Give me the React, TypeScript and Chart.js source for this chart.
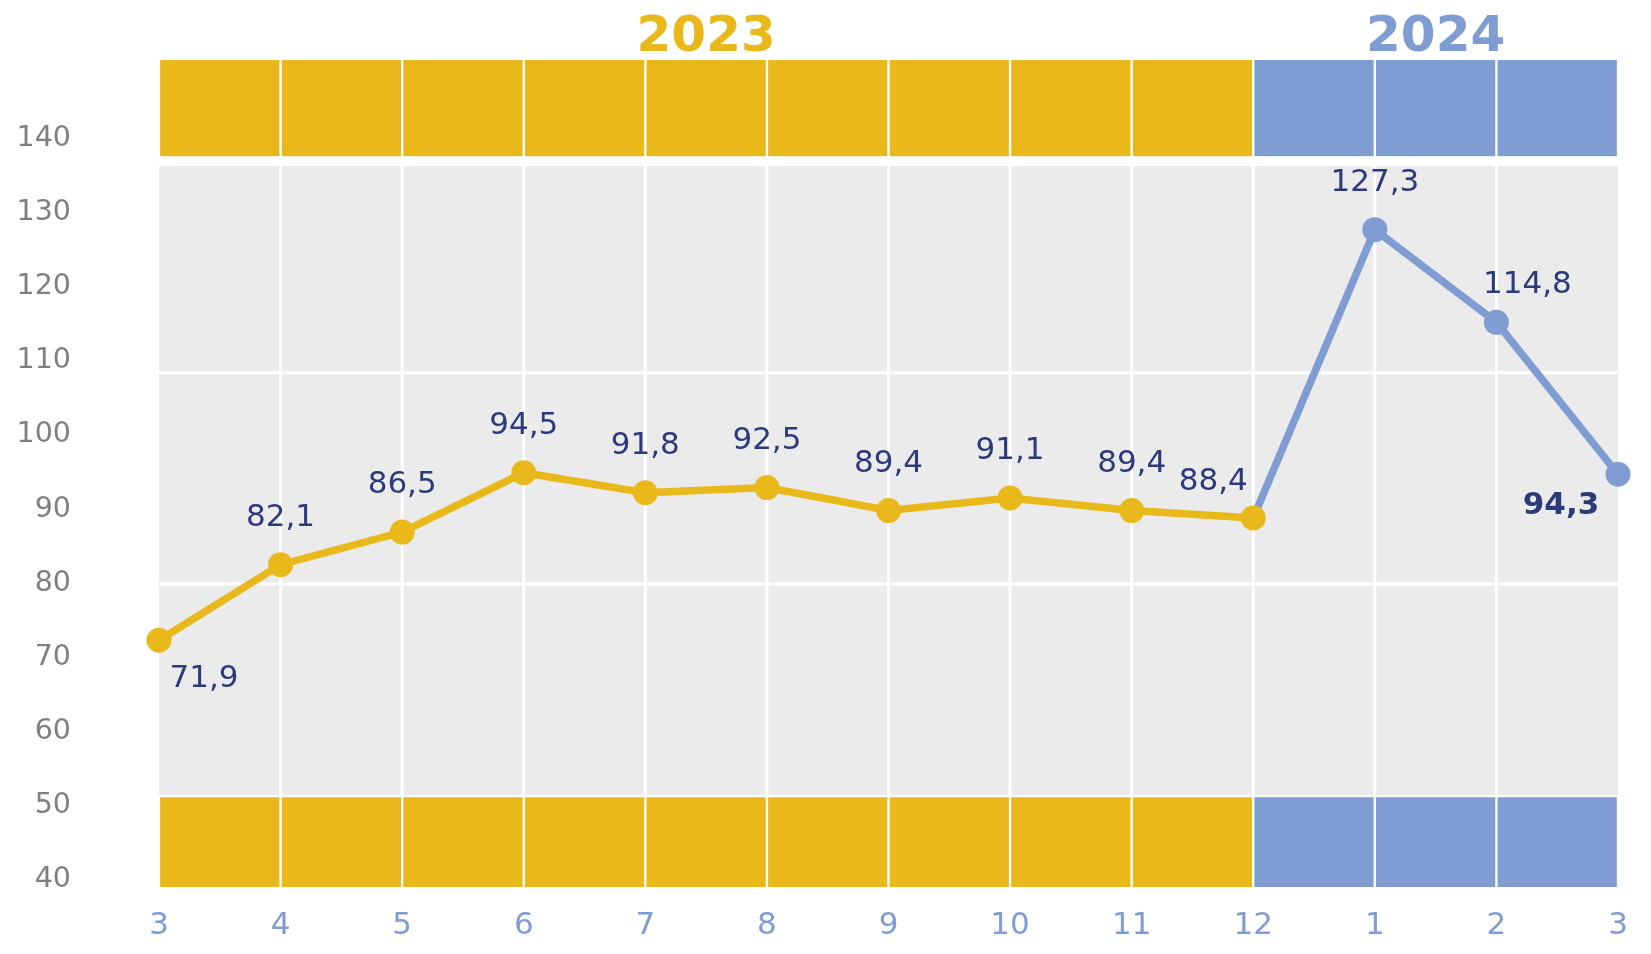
import React, { useEffect, useRef } from 'react';
import { Chart, registerables } from 'chart.js';

Chart.register(...registerables);

// ---- data ----
const MONTHS = ['3', '4', '5', '6', '7', '8', '9', '10', '11', '12', '1', '2', '3'];
const YEARS = ['2023', '2024'];
const VALUES_2023 = [71.9, 82.1, 86.5, 94.5, 91.8, 92.5, 89.4, 91.1, 89.4, 88.4];
const VALUES_2024 = [127.3, 114.8, 94.3];
const Y_TICKS = [40, 50, 60, 70, 80, 90, 100, 110, 120, 130, 140];

// ---- decoration ranges (in y-axis units) ----
const Y_MIN = 38.6;
const Y_MAX = 150.2;
const TOP_BAND = [137.2, 150.2];
const BOTTOM_BAND = [38.6, 50.7];
const GRAY_RANGE = [51.0, 135.9];
const GRAY_H_LINES = [79.5, 108.0];

// label placement per point
const LABEL_POS = [
  'belowRight', 'above', 'above', 'above', 'above', 'above', 'above', 'above', 'above',
  'aboveLeft', 'above', 'aboveRight', 'belowLeft',
];
const BOLD_LABELS = [12];

// ---- styles ----
const YELLOW = '#E9B81B';
const BLUE = '#7F9DD3';
const GRAY_BG = '#EBEBEB';
const LABEL_COLOR = '#2B3A7A';
const FONT = '"DejaVu Sans", Verdana, sans-serif';

const OFFSETS: Record<string, [number, number]> = {
  above: [0, -47],
  belowRight: [45, 39],
  aboveLeft: [-40, -36],
  aboveRight: [31, -37],
  belowLeft: [-57, 32],
};

const ALL_VALUES = [...VALUES_2023, ...VALUES_2024];
const N_CELLS = MONTHS.length - 1;
const N_2023_CELLS = VALUES_2023.length - 1;

const fmt = (v: number) => v.toFixed(1).replace('.', ',');

const backgroundPlugin = {
  id: 'grayBackground',
  beforeDatasetsDraw(chart: any) {
    const { ctx, scales } = chart;
    const x = scales.x;
    const y = scales.y;
    const l = x.getPixelForValue(0);
    const r = x.getPixelForValue(N_CELLS);
    const t = y.getPixelForValue(GRAY_RANGE[1]);
    const b = y.getPixelForValue(GRAY_RANGE[0]);
    ctx.save();
    ctx.fillStyle = GRAY_BG;
    ctx.fillRect(l, t, r - l, b - t);
    ctx.strokeStyle = '#FFFFFF';
    ctx.lineWidth = 3;
    for (let i = 1; i < N_CELLS; i++) {
      const px = x.getPixelForValue(i);
      ctx.beginPath();
      ctx.moveTo(px, t);
      ctx.lineTo(px, b);
      ctx.stroke();
    }
    GRAY_H_LINES.forEach((v) => {
      const py = y.getPixelForValue(v);
      ctx.beginPath();
      ctx.moveTo(l, py);
      ctx.lineTo(r, py);
      ctx.stroke();
    });
    ctx.restore();
  },
};

const labelsPlugin = {
  id: 'pointLabels',
  afterDatasetsDraw(chart: any) {
    const { ctx, scales } = chart;
    const x = scales.x;
    const y = scales.y;
    ctx.save();
    ctx.fillStyle = LABEL_COLOR;
    ctx.textAlign = 'center';
    ctx.textBaseline = 'middle';
    ALL_VALUES.forEach((v, i) => {
      const [dx, dy] = OFFSETS[LABEL_POS[i]];
      const bold = BOLD_LABELS.includes(i);
      ctx.font = `${bold ? 'bold ' : ''}31px ${FONT}`;
      ctx.fillText(fmt(v), x.getPixelForValue(i) + dx, y.getPixelForValue(v) + dy);
    });
    ctx.restore();
  },
};

const yearsPlugin = {
  id: 'yearTitles',
  afterDraw(chart: any) {
    const { ctx, scales } = chart;
    const x = scales.x;
    ctx.save();
    ctx.font = `bold 50px ${FONT}`;
    ctx.textAlign = 'center';
    ctx.textBaseline = 'alphabetic';
    const p0 = x.getPixelForValue(0);
    const p1 = x.getPixelForValue(N_2023_CELLS);
    const p2 = x.getPixelForValue(N_CELLS);
    ctx.fillStyle = YELLOW;
    ctx.fillText(YEARS[0], (p0 + p1) / 2, 51);
    ctx.fillStyle = BLUE;
    ctx.fillText(YEARS[1], (p1 + p2) / 2, 51);
    ctx.restore();
  },
};

export default function App() {
  const canvasRef = useRef<HTMLCanvasElement | null>(null);

  useEffect(() => {
    document.body.style.margin = '0';
    const canvas = canvasRef.current;
    if (!canvas) return;

    const cellColors = Array.from({ length: N_CELLS }, (_, i) => (i < N_2023_CELLS ? YELLOW : BLUE));
    const bandData = (range: number[]) =>
      cellColors.map((_, i) => ({ x: i + 0.5, y: [range[0], range[1]] }));

    const yellowData = VALUES_2023.map((v, i) => ({ x: i, y: v }));
    const blueData = [
      { x: N_2023_CELLS, y: VALUES_2023[VALUES_2023.length - 1] },
      ...VALUES_2024.map((v, i) => ({ x: VALUES_2023.length + i, y: v })),
    ];

    const barCommon = {
      type: 'bar' as const,
      backgroundColor: cellColors,
      borderColor: '#FFFFFF',
      borderWidth: { left: 1.5, right: 1.5, top: 0, bottom: 0 },
      borderSkipped: false,
      barPercentage: 1,
      categoryPercentage: 1,
      grouped: false,
      order: 10,
    };

    const chart = new Chart(canvas, {
      type: 'line',
      data: {
        datasets: [
          {
            type: 'line',
            data: yellowData,
            borderColor: YELLOW,
            backgroundColor: YELLOW,
            borderWidth: 7.5,
            pointRadius: 12.5,
            pointBorderWidth: 0,
            pointBackgroundColor: YELLOW,
            tension: 0,
            clip: false,
            order: 0,
          } as any,
          {
            type: 'line',
            data: blueData,
            borderColor: BLUE,
            backgroundColor: BLUE,
            borderWidth: 7.5,
            pointRadius: blueData.map((_, i) => (i === 0 ? 0 : 12.5)),
            pointBorderWidth: 0,
            pointBackgroundColor: BLUE,
            tension: 0,
            clip: false,
            order: 1,
          } as any,
          { ...barCommon, data: bandData(TOP_BAND) } as any,
          { ...barCommon, data: bandData(BOTTOM_BAND) } as any,
        ],
      },
      options: {
        responsive: false,
        animation: false,
        devicePixelRatio: 1,
        events: [],
        layout: { padding: { top: 60, right: 33, left: 0, bottom: 0 } },
        plugins: {
          legend: { display: false },
          tooltip: { enabled: false },
          title: { display: false },
        },
        scales: {
          x: {
            type: 'linear',
            min: 0,
            max: N_CELLS,
            offset: false,
            grid: { display: false, drawTicks: false },
            border: { display: false },
            afterBuildTicks: (scale: any) => {
              scale.ticks = MONTHS.map((_, i) => ({ value: i }));
            },
            afterFit: (scale: any) => {
              scale.height = 67;
            },
            ticks: {
              autoSkip: false,
              maxRotation: 0,
              padding: 20,
              color: BLUE,
              font: { family: FONT, size: 31 },
              callback: (v: any) => MONTHS[Math.round(Number(v))] ?? '',
            },
          },
          y: {
            type: 'linear',
            min: Y_MIN,
            max: Y_MAX,
            grid: {
              display: true,
              drawOnChartArea: false,
              drawTicks: true,
              tickLength: 88,
              color: 'rgba(0,0,0,0)',
            },
            border: { display: false },
            afterBuildTicks: (scale: any) => {
              scale.ticks = Y_TICKS.map((v) => ({ value: v }));
            },
            afterFit: (scale: any) => {
              scale.width = 159;
            },
            ticks: {
              padding: 0,
              labelOffset: 3,
              color: '#7F7F7F',
              font: { family: FONT, size: 28.5 },
              callback: (v: any) => String(v),
            },
          },
        },
      } as any,
      plugins: [backgroundPlugin, labelsPlugin, yearsPlugin],
    });

    return () => chart.destroy();
  }, []);

  return (
    <div style={{ width: 1651, height: 954, background: '#FFFFFF' }}>
      <canvas ref={canvasRef} width={1651} height={954} style={{ display: 'block' }} />
    </div>
  );
}
